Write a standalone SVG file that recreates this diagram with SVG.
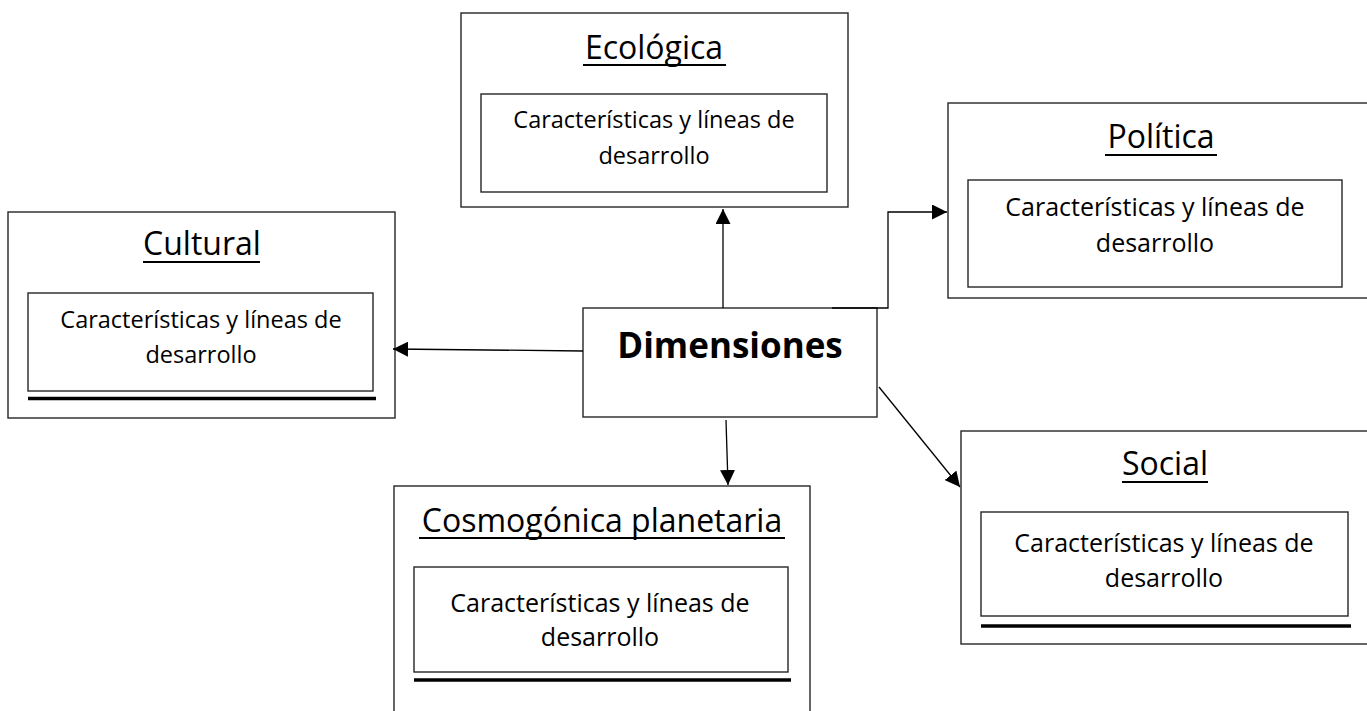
<svg xmlns="http://www.w3.org/2000/svg" width="1367" height="711" viewBox="0 0 1367 711">
<style>
.box{fill:#fff;stroke:#262626;stroke-width:1.4}
.title{font-family:"Open Sans","Noto Sans","Liberation Sans",sans-serif;font-size:32px;fill:#000;text-anchor:middle}
.body{font-family:"Open Sans","Noto Sans","Liberation Sans",sans-serif;font-size:23.5px;fill:#000;text-anchor:middle}
.big{font-size:25px}
.ul{stroke:#000;stroke-width:2}
.thick{stroke:#000;stroke-width:3.5}
.main{font-family:"Open Sans","Noto Sans","Liberation Sans",sans-serif;font-size:35px;font-weight:bold;fill:#000;text-anchor:middle}
.conn{fill:none;stroke:#000;stroke-width:1.3}
</style>
<defs>
<marker id="arr" viewBox="0 0 10 10" refX="10" refY="5" markerWidth="15" markerHeight="15" markerUnits="userSpaceOnUse" orient="auto">
<path d="M0,0 L10,5 L0,10 z" fill="#000"/>
</marker>
</defs>
<rect width="1367" height="711" fill="#fff"/>

<g id="node-ecologica">
<rect class="box" x="461" y="13" width="387" height="194"/>
<text class="title" x="654" y="59">Ecológica</text>
<line class="ul" x1="583" y1="65" x2="726" y2="65"/>
<rect class="box" x="481" y="94" width="346" height="98"/>
<text class="body" x="654" y="128">Características y líneas de</text>
<text class="body" x="654" y="164">desarrollo</text>
</g>

<g id="node-politica">
<rect class="box" x="948" y="103" width="440" height="195"/>
<text class="title" x="1161" y="148">Política</text>
<line class="ul" x1="1105" y1="155" x2="1217" y2="155"/>
<rect class="box" x="968" y="180" width="374" height="107"/>
<text class="body big" x="1155" y="216">Características y líneas de</text>
<text class="body big" x="1155" y="252">desarrollo</text>
</g>

<g id="node-cultural">
<rect class="box" x="8" y="212" width="387" height="206"/>
<text class="title" x="202" y="255">Cultural</text>
<line class="ul" x1="143" y1="262" x2="260" y2="262"/>
<rect class="box" x="28" y="293" width="345" height="98"/>
<text class="body" x="201" y="328">Características y líneas de</text>
<text class="body" x="201" y="363">desarrollo</text>
<line class="thick" x1="28" y1="398.5" x2="376" y2="398.5"/>
</g>

<g id="node-dimensiones">
<rect class="box" x="583" y="308" width="294" height="109"/>
<text class="main" x="730" y="358">Dimensiones</text>
</g>

<g id="node-social">
<rect class="box" x="961" y="431" width="430" height="213"/>
<text class="title" x="1165" y="475">Social</text>
<line class="ul" x1="1122" y1="482" x2="1208" y2="482"/>
<rect class="box" x="981" y="512" width="367" height="104"/>
<text class="body big" x="1164" y="552">Características y líneas de</text>
<text class="body big" x="1164" y="587">desarrollo</text>
<line class="thick" x1="981" y1="626" x2="1351" y2="626"/>
</g>

<g id="node-cosmogonica">
<rect class="box" x="394" y="486" width="416" height="240"/>
<text class="title" x="602" y="532">Cosmogónica planetaria</text>
<line class="ul" x1="419" y1="538" x2="785" y2="538"/>
<rect class="box" x="414" y="567" width="374" height="105"/>
<text class="body big" x="600" y="612">Características y líneas de</text>
<text class="body big" x="600" y="646">desarrollo</text>
<line class="thick" x1="414" y1="680" x2="791" y2="680"/>
</g>

<g id="connectors">
<line class="conn" x1="723" y1="308" x2="723" y2="209" marker-end="url(#arr)"/>
<polyline class="conn" points="832,308 888,308 888,212 947,212" marker-end="url(#arr)"/>
<line class="conn" x1="583" y1="351" x2="393" y2="349" marker-end="url(#arr)"/>
<line class="conn" x1="726" y1="420" x2="728" y2="485" marker-end="url(#arr)"/>
<line class="conn" x1="879" y1="387" x2="960" y2="487" marker-end="url(#arr)"/>
</g>
</svg>
